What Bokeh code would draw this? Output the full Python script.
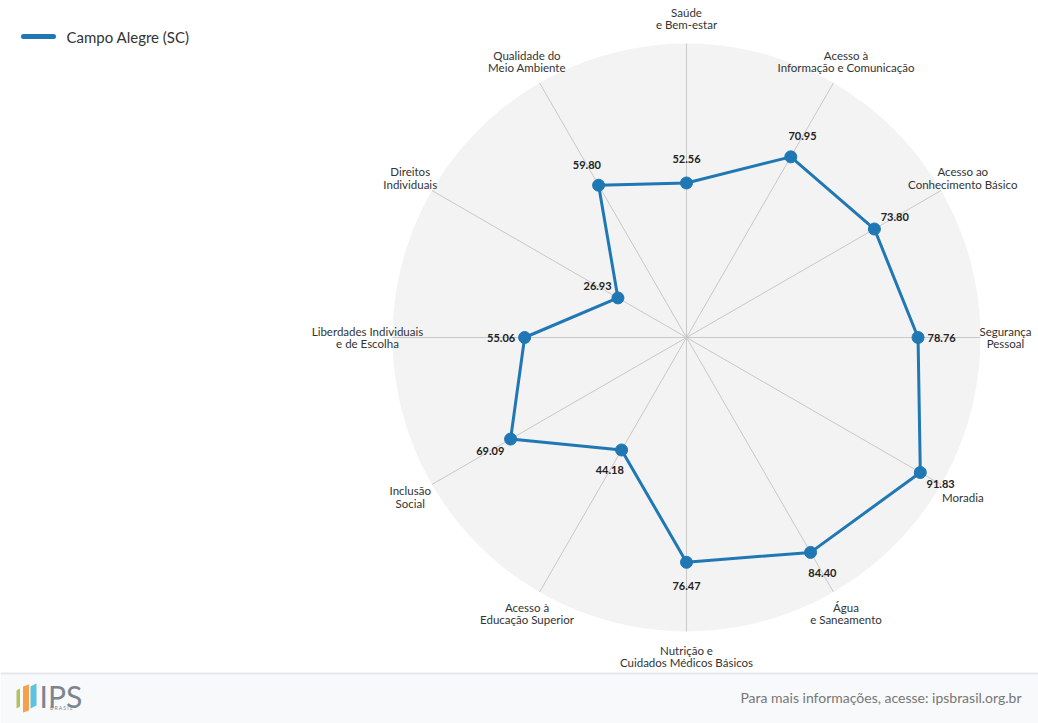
import numpy as np
from bokeh.plotting import figure
from bokeh.models import Range1d, ColumnDataSource
from bokeh.core.properties import value
from bokeh.embed import file_html
from bokeh.resources import INLINE

# ---- data ----
categories = [
    "Saúde\ne Bem-estar",
    "Acesso à\nInformação e Comunicação",
    "Acesso ao\nConhecimento Básico",
    "Segurança\nPessoal",
    "Moradia",
    "Água\ne Saneamento",
    "Nutrição e\nCuidados Médicos Básicos",
    "Acesso à\nEducação Superior",
    "Inclusão\nSocial",
    "Liberdades Individuais\ne de Escolha",
    "Direitos\nIndividuais",
    "Qualidade do\nMeio Ambiente",
]
values = [52.56, 70.95, 73.80, 78.76, 91.83, 84.40, 76.47, 44.18, 69.09, 55.06, 26.93, 59.80]
series_name = "Campo Alegre (SC)"
footer_text = "Para mais informações, acesse: ipsbrasil.org.br"

# ---- layout ----
W, H = 1038, 723
S = 2.94                 # px per unit (radius 100 -> 294 px)
CX, CY = 686, 337        # centre in page px
FONT = value("Lato")
COLOR = "#1f77b4"

def X(px):
    return (px - CX) / S

def Y(py):
    return (CY - py) / S

p = figure(width=W, height=H, output_backend="svg", toolbar_location=None,
           x_range=Range1d(X(0), X(W)), y_range=Range1d(Y(H), Y(0)),
           min_border=0, outline_line_color=None)
p.axis.visible = False
p.grid.visible = False
p.background_fill_color = "white"
p.border_fill_color = "white"

n = len(categories)
ang = np.arange(n) * 2 * np.pi / n   # clockwise from top
sx, sy = np.sin(ang), np.cos(ang)
vals = np.array(values)

# pane background
p.circle(x=[0], y=[0], radius=100, fill_color="#f3f3f3", line_color=None)
# spokes
p.segment(x0=[0] * n, y0=[0] * n, x1=list(100 * sx), y1=list(100 * sy),
          line_color="#c8c8c8", line_width=1)

# axis labels
R_LAB = 319 / S
p.text(x=list(R_LAB * sx), y=list(R_LAB * sy), text=categories,
       text_font=FONT, text_font_size="11.5px", text_color="#333333",
       text_align="center", text_baseline="middle", text_line_height=0.95)

# series
px_ = vals * sx
py_ = vals * sy
p.line(x=list(px_) + [px_[0]], y=list(py_) + [py_[0]], line_color=COLOR,
       line_width=3, line_join="round")
src = ColumnDataSource(dict(x=px_, y=py_, lx=(vals + 8) * sx, ly=(vals + 8) * sy,
                            t=[f"{v:.2f}" for v in values]))
p.scatter(x="x", y="y", source=src, size=12, fill_color=COLOR, line_color=COLOR)
p.text(x="lx", y="ly", text="t", source=src, text_font=FONT, text_font_size="11px",
       text_font_style="bold", text_color="#222222", text_align="center",
       text_baseline="middle")

# legend
p.line(x=[X(23), X(53)], y=[Y(36), Y(36)], line_color=COLOR, line_width=5,
       line_cap="round")
p.text(x=[X(66)], y=[Y(36)], text=[series_name], text_font=FONT,
       text_font_size="15px", text_color="#333333", text_baseline="middle")

# footer
p.quad(left=[X(0)], right=[X(W + 2)], top=[Y(673)], bottom=[Y(H + 5)],
       fill_color="#f8f9fa", line_color=None)
p.line(x=[X(0), X(W + 2)], y=[Y(673), Y(673)], line_color="#e6e8eb", line_width=2)
p.text(x=[X(1021)], y=[Y(697)], text=[footer_text], text_font=FONT,
       text_font_size="14px", text_color="#777777", text_align="right",
       text_baseline="middle")

# logo
p.patch(x=[X(16), X(19.5), X(19.5), X(16)], y=[Y(690), Y(688), Y(706), Y(708)],
        fill_color="#aec35c", line_color=None)
p.patch(x=[X(22.5), X(28.5), X(28.5), X(22.5)], y=[Y(686), Y(684), Y(710), Y(712)],
        fill_color="#f5a14b", line_color=None)
p.patch(x=[X(30), X(36), X(36), X(30)], y=[Y(686), Y(683), Y(705), Y(708)],
        fill_color="#5bc3e0", line_color=None)
p.text(x=[X(39)], y=[Y(695)], text=["IPS"], text_font=FONT, text_font_size="30px",
       text_font_style="normal", text_color="#7b8590", text_baseline="middle")
p.text(x=[X(61)], y=[Y(707)], text=["B R A S I L"], text_font=FONT,
       text_font_size="5px", text_color="#7b8590", text_align="center",
       text_baseline="middle")

open("out.html", "w").write(file_html(p, INLINE))
